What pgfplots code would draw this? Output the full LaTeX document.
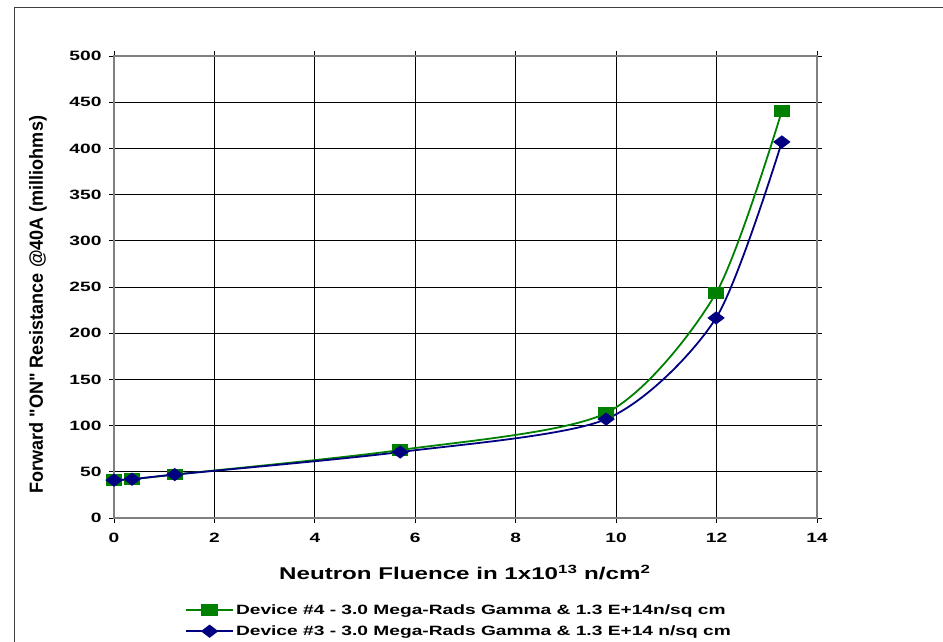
\documentclass[border=0pt]{standalone}
\usepackage{pgfplots}
\pgfplotsset{compat=1.18}
\usepackage{fontspec}
\setmainfont{Liberation Sans}[FakeStretch=1.42]
\newfontfamily\ylabfont{Liberation Sans}[FakeStretch=0.95]
\definecolor{dgreen}{RGB}{0,128,0}
\definecolor{dnavy}{RGB}{0,0,128}
\begin{document}
\begin{tikzpicture}
\useasboundingbox (0pt,0pt) rectangle (943pt,641pt);
\draw[line width=1pt, black!75] (14pt,-5pt) -- (14pt,633pt) -- (950pt,633pt);
\begin{axis}[
  at={(114pt,123pt)}, anchor=south west,
  scale only axis, width=703pt, height=462pt,
  xmin=0, xmax=14, ymin=0, ymax=500,
  xtick={0,2,...,14}, ytick={0,50,...,500},
  grid=major, grid style={black, line width=0.9pt},
  axis line style={gray, line width=1.2pt},
  tick align=outside, major tick length=5pt,
  tick style={black, line width=0.8pt},
  /pgf/number format/assume math mode=true,
  ticklabel style={font=\fontsize{13.5}{15}\selectfont\bfseries},
  yticklabel style={xshift=-4pt},
  xticklabel style={yshift=-7pt},
  xlabel={Neutron Fluence in 1x10\textsuperscript{13} n/cm\textsuperscript{2}},
  xlabel style={font=\fontsize{17}{20}\selectfont\bfseries, at={(axis description cs:0.499,-0.134)}, anchor=base},
  ylabel={Forward "ON" Resistance @40A (milliohms)},
  ylabel style={font=\fontsize{19}{21}\ylabfont\bfseries, at={(axis description cs:-0.101,0.045)}, anchor=base west},
  legend style={draw=none, fill=none, at={(axis description cs:0.101,-0.182)}, anchor=north west,
    font=\fontsize{13.5}{15}\selectfont\bfseries, row sep=6pt, inner sep=0pt,
    nodes={inner sep=2pt}, cells={anchor=west}},
  legend image code/.code={\draw[mark repeat=2,mark phase=2] plot coordinates {(0pt,0pt) (23.5pt,0pt) (47pt,0pt)};},
]
\addplot[dgreen, line width=1.8pt, smooth, tension=0.45, mark=square*, mark size=5pt, mark options={xscale=1.45, solid}]
  coordinates {(0,41) (0.36,42) (1.21,47) (5.70,73.6) (9.80,113.6) (11.99,243.5) (13.30,440.5)};
\addlegendentry{Device \#4 - 3.0 Mega-Rads Gamma \& 1.3 E+14n/sq cm}
\addplot[dnavy, line width=1.8pt, smooth, tension=0.45, mark=diamond*, mark size=5.5pt, mark options={xscale=1.75, solid}]
  coordinates {(0,41) (0.36,42) (1.21,47) (5.70,71.4) (9.80,107) (11.99,216.5) (13.30,407)};
\addlegendentry{Device \#3 - 3.0 Mega-Rads Gamma \& 1.3 E+14 n/sq cm}
\end{axis}
\end{tikzpicture}
\end{document}
